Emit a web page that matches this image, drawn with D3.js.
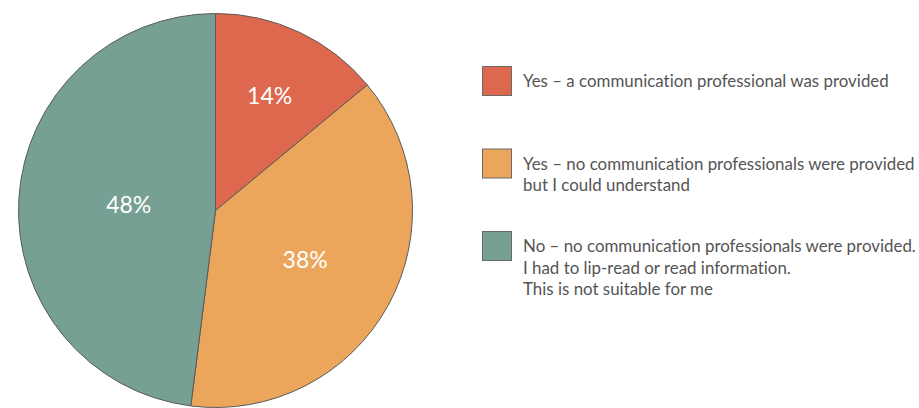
<!DOCTYPE html>
<html><head><meta charset="utf-8">
<script src="https://cdn.jsdelivr.net/npm/d3@7"></script>
<style>body{margin:0;background:#fff;} svg{display:block;} text{font-variant-ligatures:none;font-feature-settings:"liga" 0,"clig" 0,"dlig" 0;}</style>
</head><body>
<svg id="chart" width="919" height="408"></svg>
<script>
const categories = [
  ["Yes – a communication professional was provided"],
  ["Yes – no communication professionals were provided", "but I could understand"],
  ["No – no communication professionals were provided.", "I had to lip-read or read information.", "This is not suitable for me"]
];
const values = [14, 38, 48];
const colors = ["#DE684E", "#EBA65C", "#76A093"];

const svg = d3.select("#chart");
const cx = 215.5, cy = 210.5, R = 197;
const font = "Lato, 'Open Sans', sans-serif";

const pie = d3.pie().sort(null).value(d => d)(values);
const arc = d3.arc().innerRadius(0).outerRadius(R);
const g = svg.append("g").attr("transform", `translate(${cx},${cy})`);
g.selectAll("path").data(pie).join("path")
  .attr("d", arc)
  .attr("fill", (d, i) => colors[i])
  .attr("stroke", "#5a5a5a")
  .attr("stroke-width", 1);

g.selectAll("text").data(pie).join("text")
  .attr("transform", d => {
    const a = d.endAngle - d.startAngle;
    const m = (d.startAngle + d.endAngle) / 2;
    const r = 4 * R * Math.sin(a / 2) / (3 * a);
    return `translate(${r * Math.sin(m)},${-r * Math.cos(m)})`;
  })
  .attr("text-anchor", "middle")
  .attr("dy", "0.35em")
  .attr("fill", "#fff")
  .style("font-family", font)
  .style("font-size", "23px")
  .text(d => d.data + "%");

const legendY = d3.scalePoint().domain(d3.range(categories.length)).range([66.5, 231.5]);
const lg = svg.append("g");
categories.forEach((lines, i) => {
  const y = legendY(i);
  lg.append("rect").attr("x", 482.5).attr("y", y).attr("width", 29).attr("height", 29)
    .attr("fill", colors[i]).attr("stroke", "#6a6a6a").attr("stroke-width", 1);
  const t = lg.append("text").attr("x", 523).attr("y", y + 20.5)
    .attr("fill", "#555").style("font-family", font).style("font-size", "16.9px");
  lines.forEach((l, j) => t.append("tspan").attr("x", 523).attr("dy", j === 0 ? 0 : 21.5).text(l));
});
</script>
</body></html>
